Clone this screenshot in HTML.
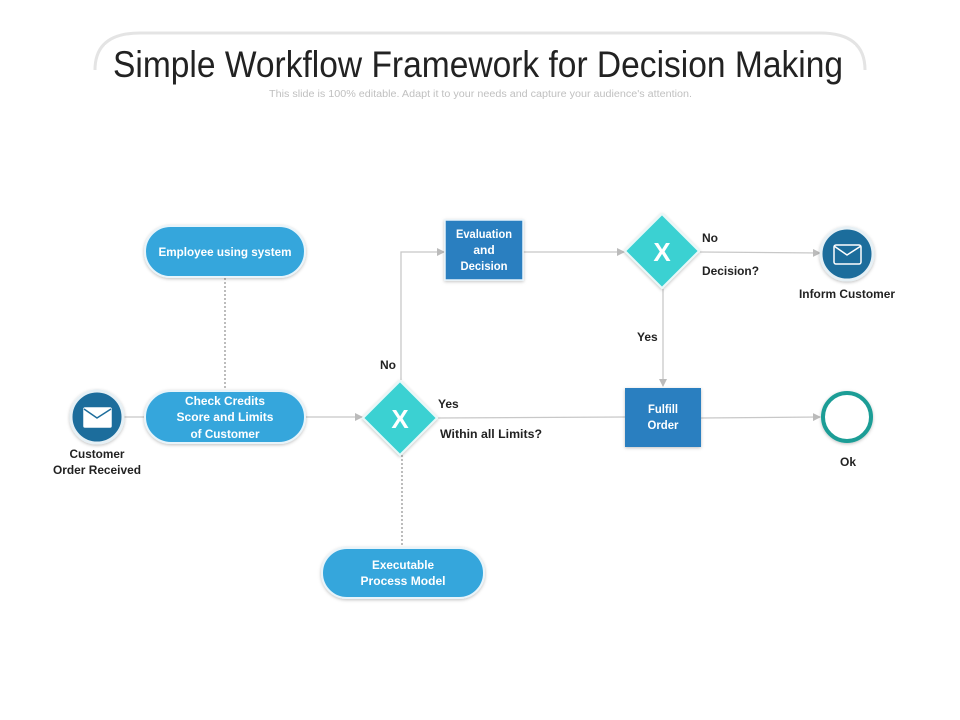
<!DOCTYPE html>
<html><head><meta charset="utf-8"><style>
html,body{margin:0;padding:0;background:#fff;}
svg{display:block;}
text{font-family:"Liberation Sans Narrow","Liberation Sans",sans-serif;font-weight:bold;}
</style></head><body>
<svg width="960" height="720" viewBox="0 0 960 720" xmlns="http://www.w3.org/2000/svg">
<defs>
<marker id="a" markerWidth="8" markerHeight="8" refX="7" refY="4" orient="auto" markerUnits="userSpaceOnUse"><path d="M0,0 L8,4 L0,8 z" fill="#bbb"/></marker>
<filter id="s" x="-20%" y="-20%" width="140%" height="140%"><feDropShadow dx="0" dy="1" stdDeviation="1.5" flood-color="#000" flood-opacity="0.25"/></filter>
</defs>
<path d="M95,70 Q95,33 140,33 L820,33 Q865,33 865,70" fill="none" stroke="#e4e4e4" stroke-width="3"/>
<rect x="105" y="45" width="750" height="45" fill="#fff"/>
<text x="113" y="77" font-size="37" textLength="730" lengthAdjust="spacingAndGlyphs" style="font-weight:normal" fill="#222">Simple Workflow Framework for Decision Making</text>
<text x="269" y="97" font-size="10" textLength="423" lengthAdjust="spacingAndGlyphs" style="font-weight:normal" fill="#c0c0c0">This slide is 100% editable. Adapt it to your needs and capture your audience's attention.</text>

<g stroke="#c8c8c8" stroke-width="1.3" fill="none">
<line x1="123" y1="417" x2="145" y2="417"/>
<line x1="305" y1="417" x2="362" y2="417" marker-end="url(#a)"/>
<polyline points="401,380 401,252 444,252" marker-end="url(#a)"/>
<line x1="523" y1="252" x2="624" y2="252" marker-end="url(#a)"/>
<line x1="700" y1="252" x2="820" y2="253" marker-end="url(#a)"/>
<line x1="663" y1="289" x2="663" y2="386" marker-end="url(#a)"/>
<line x1="437" y1="418" x2="625" y2="417"/>
<line x1="701" y1="418" x2="820" y2="417" marker-end="url(#a)"/>
<line x1="225" y1="278" x2="225" y2="391" stroke-dasharray="2,2" stroke="#999"/>
<line x1="402" y1="455" x2="402" y2="548" stroke-dasharray="2,2" stroke="#999"/>
</g>

<g filter="url(#s)">
<rect x="145" y="226" width="160" height="51" rx="25.5" fill="#34a6dc" stroke="#e8f4fa" stroke-width="2"/>
<rect x="145" y="391" width="160" height="52" rx="26" fill="#34a6dc" stroke="#e8f4fa" stroke-width="2"/>
<rect x="322" y="548" width="162" height="50" rx="25" fill="#34a6dc" stroke="#e8f4fa" stroke-width="2"/>
<rect x="445" y="220" width="78" height="60" fill="#2a7fc0" stroke="#e8f4fa" stroke-width="1.5"/>
<rect x="625" y="388" width="76" height="59" fill="#2a7fc0"/>
<circle cx="97" cy="417" r="26" fill="#1d6d9c" stroke="#e6f0f5" stroke-width="3"/>
<circle cx="847" cy="254" r="26" fill="#1d6d9c" stroke="#e6f0f5" stroke-width="3"/>
<circle cx="847" cy="417" r="24" fill="#fff" stroke="#1a9d96" stroke-width="4"/>
<polygon points="400,381 437,418 400,455 363,418" fill="#3bd1d2" stroke="#e8f8f8" stroke-width="2"/>
<polygon points="662,214 699,251 662,288 625,251" fill="#3bd1d2" stroke="#e8f8f8" stroke-width="2"/>
</g>
<g fill="none" stroke="#fff" stroke-width="1.5">
<rect x="84" y="408" width="27" height="19" rx="1" fill="#fff"/>
<polyline points="84,409 97,418 111,409" stroke="#1d6d9c"/>
<rect x="834" y="245" width="27" height="19" rx="2"/>
<polyline points="834,246 847,255 861,246"/>
</g>

<g fill="#fff" text-anchor="middle" font-size="12">
<text x="225" y="256" textLength="133" lengthAdjust="spacingAndGlyphs">Employee using system</text>
<text x="225" y="405" textLength="80" lengthAdjust="spacingAndGlyphs">Check Credits</text>
<text x="225" y="421" textLength="97" lengthAdjust="spacingAndGlyphs">Score and Limits</text>
<text x="225" y="438" textLength="69" lengthAdjust="spacingAndGlyphs">of Customer</text>
<text x="403" y="569" textLength="62" lengthAdjust="spacingAndGlyphs">Executable</text>
<text x="403" y="585" textLength="85" lengthAdjust="spacingAndGlyphs">Process Model</text>
<text x="484" y="238" textLength="56" lengthAdjust="spacingAndGlyphs">Evaluation</text>
<text x="484" y="254">and</text>
<text x="484" y="270" textLength="47" lengthAdjust="spacingAndGlyphs">Decision</text>
<text x="663" y="413" textLength="30" lengthAdjust="spacingAndGlyphs">Fulfill</text>
<text x="663" y="429" textLength="31" lengthAdjust="spacingAndGlyphs">Order</text>
<text x="400" y="428" font-size="26">X</text>
<text x="662" y="261" font-size="26">X</text>
</g>
<g fill="#222" font-size="12">
<text x="97" y="458" text-anchor="middle" textLength="55" lengthAdjust="spacingAndGlyphs">Customer</text>
<text x="97" y="474" text-anchor="middle" textLength="88" lengthAdjust="spacingAndGlyphs">Order Received</text>
<text x="847" y="298" text-anchor="middle" textLength="96" lengthAdjust="spacingAndGlyphs">Inform Customer</text>
<text x="848" y="466" text-anchor="middle">Ok</text>
<text x="380" y="369">No</text>
<text x="438" y="408">Yes</text>
<text x="440" y="438" textLength="102" lengthAdjust="spacingAndGlyphs">Within all Limits?</text>
<text x="702" y="242">No</text>
<text x="702" y="275" textLength="57" lengthAdjust="spacingAndGlyphs">Decision?</text>
<text x="637" y="341">Yes</text>
</g>
</svg>
</body></html>
